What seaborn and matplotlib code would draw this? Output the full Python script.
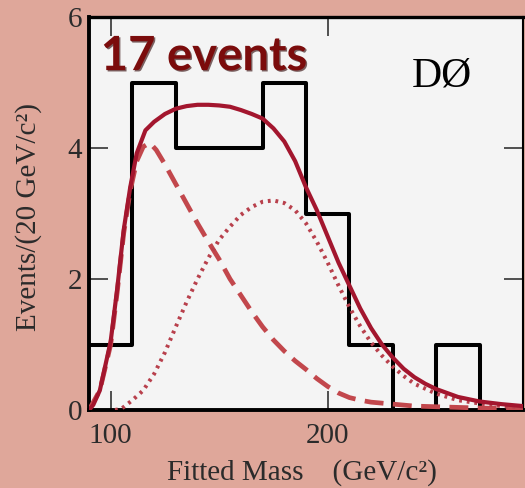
import numpy as np
import pandas as pd
import matplotlib
matplotlib.use("Agg")
import matplotlib.pyplot as plt
import matplotlib.patheffects as pe
import seaborn as sns

# histogram: 20 GeV bins, left edges and counts
bin_left = [90, 110, 130, 150, 170, 190, 210, 230, 250, 270]
bin_width = 20
counts = [1, 5, 4, 4, 5, 3, 1, 0, 1, 0]

# total fit (solid)
fit_mass = [90, 92, 95, 97, 100, 103, 106, 109, 112, 116, 120, 125, 130, 135,
            140, 145, 150, 155, 160, 165, 170, 175, 180, 185, 190, 195, 200,
            205, 210, 215, 220, 225, 230, 235, 240, 245, 250, 260, 270, 280, 290]
fit_total = [0.0, 0.08, 0.3, 0.6, 1.05, 1.85, 2.75, 3.4, 3.92, 4.27, 4.4, 4.52,
             4.6, 4.64, 4.66, 4.66, 4.65, 4.63, 4.58, 4.52, 4.45, 4.3, 4.1,
             3.8, 3.4, 3.05, 2.65, 2.25, 1.9, 1.55, 1.25, 1.0, 0.8, 0.63, 0.5,
             0.4, 0.32, 0.2, 0.13, 0.09, 0.06]

# background component (dashed)
bkg_mass = [90, 95, 100, 103, 106, 109, 112, 115, 118, 121, 125, 130, 135, 140,
            145, 150, 155, 160, 165, 170, 175, 180, 185, 190, 195, 200, 205,
            210, 215, 220, 230, 240, 250, 270, 290]
bkg_vals = [0.0, 0.3, 1.0, 1.8, 2.7, 3.35, 3.8, 4.02, 4.08, 3.97, 3.75, 3.45,
            3.15, 2.85, 2.57, 2.3, 2.0, 1.75, 1.5, 1.27, 1.07, 0.9, 0.75, 0.62,
            0.48, 0.36, 0.26, 0.19, 0.15, 0.12, 0.09, 0.06, 0.05, 0.03, 0.02]

# signal component (dotted)
sig_mass = [102, 105, 110, 115, 120, 125, 130, 135, 140, 145, 150, 155, 160,
            165, 170, 175, 180, 185, 190, 195, 200, 205, 210, 215, 220, 225,
            230, 235, 240, 250, 260, 270, 280, 290]
sig_vals = [0.0, 0.02, 0.15, 0.3, 0.55, 0.88, 1.27, 1.65, 2.0, 2.32, 2.6, 2.8,
            2.98, 3.1, 3.18, 3.2, 3.16, 3.05, 2.85, 2.57, 2.25, 1.9, 1.57, 1.28,
            1.03, 0.83, 0.66, 0.52, 0.4, 0.25, 0.15, 0.1, 0.06, 0.04]

sns.set_theme(style="ticks")
plt.rcParams["font.family"] = ["Liberation Serif", "DejaVu Serif"]

fig = plt.figure(figsize=(5.25, 4.88), dpi=100, facecolor="#DFA79A")
ax = fig.add_axes([0.1695, 0.1598, 0.8267, 0.8053])
ax.set_facecolor("#F4F4F4")

edges = bin_left + [bin_left[-1] + bin_width]
sns.histplot(x=bin_left, weights=counts, bins=edges, element="step",
             fill=False, color="black", linewidth=2.9, ax=ax, zorder=2)

sns.lineplot(x=bkg_mass, y=bkg_vals, color="#C2474C", linewidth=3.4,
             linestyle=(0, (4, 2)), ax=ax, zorder=3)
sns.lineplot(x=sig_mass, y=sig_vals, color="#B8404C", linewidth=2.9,
             linestyle=(0, (0.7, 1.2)), ax=ax, zorder=3)
sns.lineplot(x=fit_mass, y=fit_total, color="#A3162E", linewidth=3.0,
             ax=ax, zorder=4)

ax.set_xlim(90, 290)
ax.set_ylim(0, 6)
ax.set_xticks([100, 200])
ax.set_yticks([0, 2, 4, 6])
ax.tick_params(direction="in", length=14, width=1.2, color="#333333",
               top=True, right=True, labelsize=21, labelcolor="#2b2b2b")
ax.tick_params(axis="x", pad=9)
ax.tick_params(axis="y", pad=5)

for side, lw in [("left", 2.8), ("bottom", 2.8), ("top", 2.4), ("right", 1.5)]:
    ax.spines[side].set_visible(True)
    ax.spines[side].set_linewidth(lw)
    ax.spines[side].set_color("black")

ax.set_xlabel("Fitted Mass    (GeV/c²)", fontsize=21, color="#2b2b2b")
ax.set_ylabel("Events/(20 GeV/c²)", fontsize=21, color="#2b2b2b")
ax.xaxis.set_label_coords(0.49, -0.125)
ax.yaxis.set_label_coords(-0.108, 0.49)

t = ax.text(95.4, 5.19, "17 events", family="Lato", weight="bold",
            fontsize=34, color="#7B0C0C", va="baseline", ha="left", zorder=5)
t.set_path_effects([pe.SimplePatchShadow(offset=(1.0, -1.0),
                                         shadow_rgbFace="#2a0000", alpha=0.6),
                    pe.Normal()])
ax.text(252.5, 5.1, "DØ", fontsize=30, color="black", ha="center",
        va="center", zorder=5)

fig.savefig("out.png", dpi=100, facecolor=fig.get_facecolor())
